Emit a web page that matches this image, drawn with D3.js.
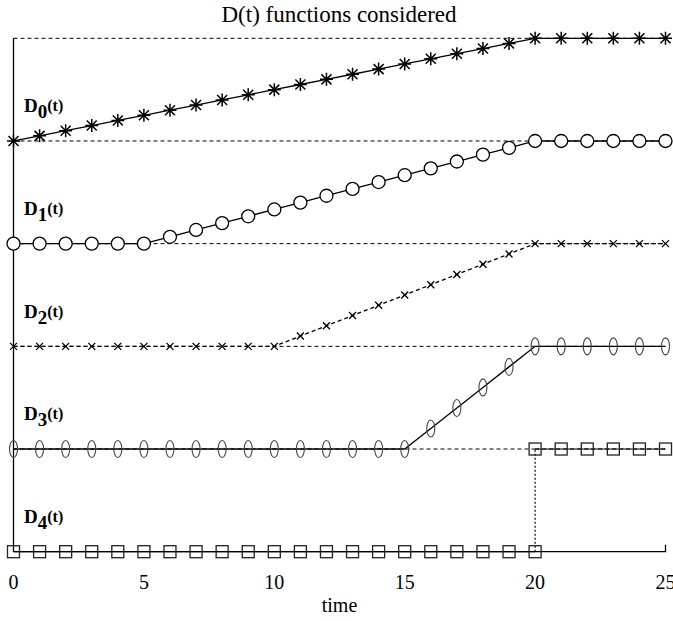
<!DOCTYPE html>
<html>
<head>
<meta charset="utf-8">
<script src="https://cdn.jsdelivr.net/npm/d3@7/dist/d3.min.js"></script>
<style>
  html, body { margin: 0; padding: 0; background: #fff; }
  svg { display: block; }
  text { font-family: "Liberation Serif", "DejaVu Serif", serif; fill: #000; }
</style>
</head>
<body>
<svg id="chart" width="673" height="621"></svg>
<script>
// Time steps (x values)
const times = [0,1,2,3,4,5,6,7,8,9,10,11,12,13,14,15,16,17,18,19,20,21,22,23,24,25];

// D0: ramps from 4 to 5 over t = 0..20
const seriesD0 = [4.00,4.05,4.10,4.15,4.20,4.25,4.30,4.35,4.40,4.45,4.50,4.55,4.60,4.65,4.70,4.75,4.80,4.85,4.90,4.95,5.00,5.00,5.00,5.00,5.00,5.00];
// D1: flat at 3 until t = 5, then ramps to 4 at t = 20
const seriesD1 = [3,3,3,3,3,3,3.0667,3.1333,3.2,3.2667,3.3333,3.4,3.4667,3.5333,3.6,3.6667,3.7333,3.8,3.8667,3.9333,4,4,4,4,4,4];
// D2: flat at 2 until t = 10, then ramps to 3 at t = 20
const seriesD2 = [2,2,2,2,2,2,2,2,2,2,2,2.1,2.2,2.3,2.4,2.5,2.6,2.7,2.8,2.9,3,3,3,3,3,3];
// D3: flat at 1 until t = 15, then ramps to 2 at t = 20
const seriesD3 = [1,1,1,1,1,1,1,1,1,1,1,1,1,1,1,1,1.2,1.4,1.6,1.8,2,2,2,2,2,2];
// D4: step function, 0 up to t = 20, then 1
const d4LowTimes = [0,1,2,3,4,5,6,7,8,9,10,11,12,13,14,15,16,17,18,19,20];
const seriesD4Low = [0,0,0,0,0,0,0,0,0,0,0,0,0,0,0,0,0,0,0,0,0];
const d4HighTimes = [20,21,22,23,24,25];
const seriesD4High = [1,1,1,1,1,1];

const gridLevels = [1,2,3,4,5];
const xTickValues = [0,5,10,15,20,25];
const seriesNames = ["0","1","2","3","4"];
const labelLevels = [4,3,2,1,0];

const svg = d3.select("#chart");
const x = d3.scaleLinear().domain([0,25]).range([13.5,665.5]);
const y = d3.scaleLinear().domain([0,5]).range([551.7,38.3]);

// Title
svg.append("text").attr("x", 339).attr("y", 22).attr("text-anchor","middle")
  .attr("font-size", 23).text("D(t) functions considered");

// Dashed horizontal reference lines at each level
svg.append("g").selectAll("line").data(gridLevels).join("line")
  .attr("x1", x(0)).attr("x2", x(25))
  .attr("y1", d => y(d)).attr("y2", d => y(d))
  .attr("stroke","#000").attr("stroke-width",1).attr("stroke-dasharray","4,3");

// Left axis line and bottom axis with end tick
svg.append("line").attr("x1", x(0)).attr("x2", x(0)).attr("y1", y(5)).attr("y2", y(0))
  .attr("stroke","#000").attr("stroke-width",1.3);
svg.append("path")
  .attr("d", `M${x(0)},${y(0)}H${x(25)}V${y(0)-7}`)
  .attr("fill","none").attr("stroke","#000").attr("stroke-width",1.3);

// Tick labels
svg.append("g").selectAll("text").data(xTickValues).join("text")
  .attr("x", d => x(d)).attr("y", 589).attr("text-anchor","middle")
  .attr("font-size", 20).text(d => d);
svg.append("text").attr("x", x(12.5)).attr("y", 612).attr("text-anchor","middle")
  .attr("font-size", 20).text("time");

const line = d3.line().x(d => x(d[0])).y(d => y(d[1]));
const zip = (ts, vs) => ts.map((t, i) => [t, vs[i]]);

const p0 = zip(times, seriesD0), p1 = zip(times, seriesD1), p2 = zip(times, seriesD2), p3 = zip(times, seriesD3);
const p4a = zip(d4LowTimes, seriesD4Low), p4b = zip(d4HighTimes, seriesD4High);

function drawLine(pts, dash) {
  svg.append("path").attr("d", line(pts)).attr("fill","none")
    .attr("stroke","#000").attr("stroke-width",1.3)
    .attr("stroke-dasharray", dash || null);
}
drawLine(p0); drawLine(p1); drawLine(p2, "4,3"); drawLine(p3); drawLine(p4a); drawLine(p4b, "4,3");

// Vertical dotted jump of D4 at t = 20
svg.append("line").attr("x1", x(20)).attr("x2", x(20))
  .attr("y1", y(0)).attr("y2", y(1))
  .attr("stroke","#000").attr("stroke-width",1.2).attr("stroke-dasharray","2,2");

// Markers
const mk = svg.append("g").attr("fill","none").attr("stroke","#000").attr("stroke-width",1.3);

// stars for D0
mk.selectAll(".star").data(p0).join("path").attr("class","star")
  .attr("d", d => {
    const cx = x(d[0]), cy = y(d[1]), r = 6.5, s = 5;
    return `M${cx},${cy-r}V${cy+r}M${cx-r},${cy}H${cx+r}M${cx-s},${cy-s}L${cx+s},${cy+s}M${cx-s},${cy+s}L${cx+s},${cy-s}`;
  }).attr("stroke-width",1.5);

// circles for D1
mk.selectAll(".circ").data(p1).join("circle").attr("class","circ")
  .attr("cx", d => x(d[0])).attr("cy", d => y(d[1])).attr("r", 6.5).attr("fill","#fff");

// crosses for D2
mk.selectAll(".cross").data(p2).join("path").attr("class","cross")
  .attr("d", d => {
    const cx = x(d[0]), cy = y(d[1]), s = 3.5;
    return `M${cx-s},${cy-s}L${cx+s},${cy+s}M${cx-s},${cy+s}L${cx+s},${cy-s}`;
  });

// ellipses for D3
mk.selectAll(".ell").data(p3).join("ellipse").attr("class","ell")
  .attr("cx", d => x(d[0])).attr("cy", d => y(d[1])).attr("rx", 4).attr("ry", 8.5)
  .attr("stroke","#444").attr("stroke-width",1.1);

// squares for D4
mk.selectAll(".sq").data(p4a.concat(p4b)).join("rect").attr("class","sq")
  .attr("x", d => x(d[0]) - 6).attr("y", d => y(d[1]) - 6)
  .attr("width", 12).attr("height", 12).attr("stroke","#222");

// Series labels D_i(t)
const lab = svg.append("g").selectAll("text").data(seriesNames).join("text")
  .attr("x", 24).attr("y", (d, i) => y(labelLevels[i] + 1) + 74)
  .attr("font-weight","bold").attr("font-size", 19);
lab.append("tspan").text("D");
lab.append("tspan").attr("dy", 6).text(d => d);
lab.append("tspan").attr("dy", -7).attr("font-size", 16).text("(t)");
</script>
</body>
</html>
